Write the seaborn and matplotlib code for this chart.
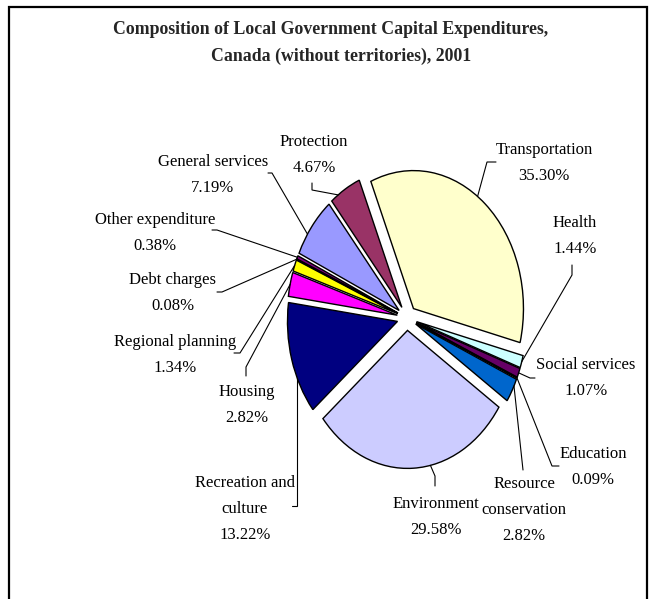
import matplotlib
matplotlib.use("Agg")
import numpy as np
import matplotlib.pyplot as plt
from matplotlib.patches import Rectangle
import seaborn as sns

# Local government capital expenditures, Canada (without territories), 2001
categories = ["General services", "Protection", "Transportation", "Health",
              "Social services", "Education", "Resource conservation",
              "Environment", "Recreation and culture", "Housing",
              "Regional planning", "Debt charges", "Other expenditure"]
shares = [7.19, 4.67, 35.30, 1.44, 1.07, 0.09, 2.82,
          29.58, 13.22, 2.82, 1.34, 0.08, 0.38]
label_lines = [["General services"], ["Protection"], ["Transportation"], ["Health"],
               ["Social services"], ["Education"], ["Resource", "conservation"],
               ["Environment"], ["Recreation and", "culture"], ["Housing"],
               ["Regional planning"], ["Debt charges"], ["Other expenditure"]]
slice_colors = ["#9999FF", "#993366", "#FFFFCC", "#CCFFFF", "#660066", "#FF8080",
                "#0066CC", "#CCCCFF", "#000080", "#FF00FF", "#FFFF00", "#00FFFF",
                "#800080"]

sns.set_style("white")
plt.rcParams["font.family"] = ["Liberation Serif", "DejaVu Serif"]

W, H = 655, 599
fig = plt.figure(figsize=(W / 100, H / 100), dpi=100)
ax = fig.add_axes([0, 0, 1, 1])

# pie centre and radii in pixels (the pie is drawn as an ellipse)
CX, CY, RX, RY = 407, 318, 110, 138


def to_data(px, py):
    return (px - CX) / RX, (CY - py) / RY


palette = sns.color_palette(slice_colors)
wedges, _ = ax.pie(shares, colors=palette, startangle=155.5, counterclock=False,
                   explode=[0.09] * len(shares),
                   wedgeprops=dict(edgecolor="black", linewidth=1.0))
ax.set_aspect("auto")
ax.set_xlim(-CX / RX, (W - CX) / RX)
ax.set_ylim(-(H - CY) / RY, CY / RY)
ax.axis("off")

# label block placement (pixel centre of first line) and leader-line layout
label_pos = [(213, 162), (314, 142), (544, 150), (575, 223), (586, 365),
             (593, 454), (524, 484), (436, 504), (245, 483), (247, 392),
             (175, 342), (173, 280), (155, 220)]
leader_pts = [
    [(268, 173), (272, 173)],
    [(312, 183), (312, 190)],
    [(496, 162), (487, 162)],
    [(572, 265), (572, 275)],
    [(535, 378), (530, 378)],
    [(559, 466), (552, 466)],
    [(523, 470)],
    [(435, 486), (435, 476)],
    [(292, 506), None],
    [(246, 376), (246, 367)],
    [(234, 353), (240, 353)],
    [(217, 292), (222, 292)],
    [(212, 230), (217, 230)],
]
edge_frac = [0.35, 0.25, 0.46, 0.5, 0.5, 0.5, 0.3, 0.415, 0.33, 0.5, 0.5, 0.5, 0.5]

LINE_STEP = 26
for w, lines, val, (lx, ly), pts, frac in zip(wedges, label_lines, shares,
                                              label_pos, leader_pts, edge_frac):
    text_lines = lines + [f"{val:.2f}%"]
    for i, t in enumerate(text_lines):
        x, y = to_data(lx, ly + i * LINE_STEP)
        ax.text(x, y, t, ha="center", va="center", fontsize=12, color="black")
    # point on the wedge's outer edge
    ang = np.deg2rad(w.theta2 - frac * (w.theta2 - w.theta1))
    ex = w.center[0] + w.r * np.cos(ang)
    ey = w.center[1] + w.r * np.sin(ang)
    path = []
    for p in pts:
        if p is None:
            # vertical drop straight onto the wedge edge
            path.append((ex, path[-1][1]))
        else:
            path.append(to_data(*p))
    path.append((ex, ey))
    xs, ys = zip(*path)
    ax.plot(xs, ys, color="black", linewidth=0.8, solid_joinstyle="miter")

# chart title
title_font = dict(fontsize=12.8, fontweight="bold", ha="center", va="center")
fig.text(331 / W, 1 - 29 / H, "Composition of Local Government Capital Expenditures,",
         **title_font)
fig.text(341 / W, 1 - 56 / H, "Canada (without territories), 2001", **title_font)

# chart-area border
fig.patches.append(Rectangle((9 / W, -0.05), (647 - 9) / W, 1.05 - 7 / H,
                             transform=fig.transFigure, fill=False,
                             edgecolor="black", linewidth=1.6))

fig.savefig("out.png", dpi=100, facecolor="white")
